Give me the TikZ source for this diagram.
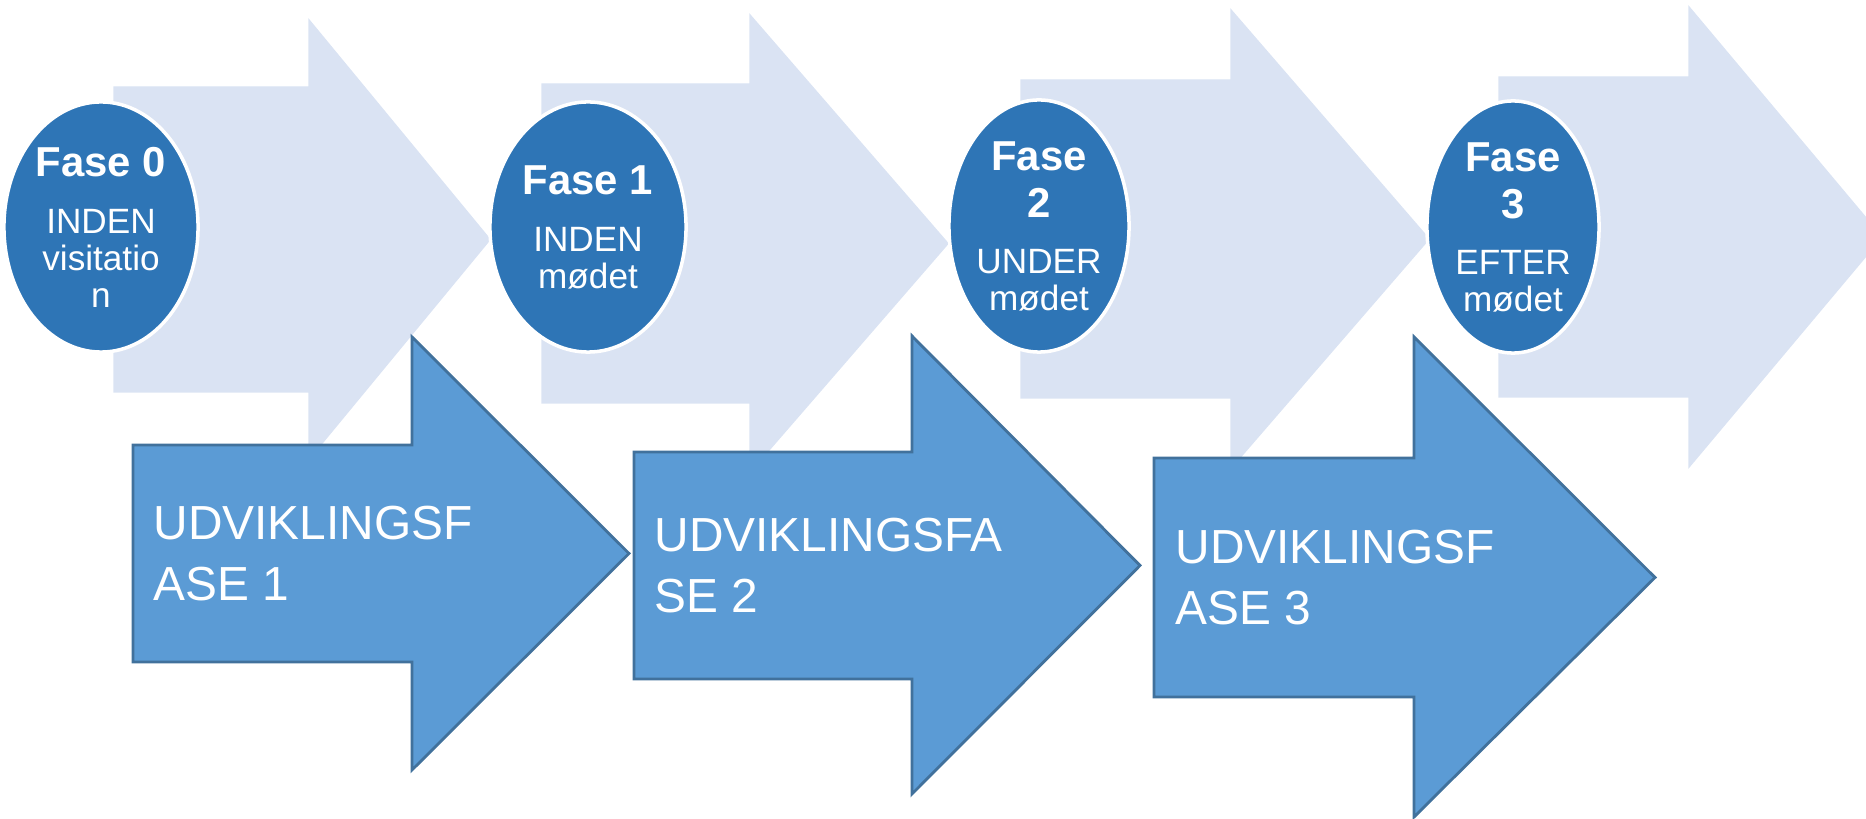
\documentclass[tikz,border=0pt]{standalone}
\usepackage{fontspec}
\setmainfont{Liberation Sans}
\usetikzlibrary{shapes}

\newcommand{\phasetitle}[1]{{\fontsize{11.9}{13.4}\selectfont\bfseries #1}}

\begin{document}
\begin{tikzpicture}[x=0.01cm, y=-0.01cm,
        lightarrow/.style={fill=phaselight, draw=phaselight, line width=0.4pt},
        darkarrow/.style={fill=devblue, draw=devborder, line width=0.8pt, line join=miter},
        phase/.style={ellipse, draw=white, fill=phaseblue, line width=1pt, text=white, inner sep=0pt, align=center, font=\fontsize{10}{10.5}\selectfont},
        devtext/.style={anchor=west, inner sep=0pt, text=white, align=left, font=\fontsize{13.6}{17.6}\selectfont}]
        \definecolor{phaselight}{RGB}{218,227,243}
        \definecolor{phaseblue}{RGB}{46,117,182}
        \definecolor{devblue}{RGB}{91,155,213}
        \definecolor{devborder}{RGB}{65,113,156}

        \clip (0,0) rectangle (1866,819);

        % Light background arrows
        \path[lightarrow] (114,87) -- (309,87) -- (309,20) -- (490,239.5) -- (309,459) -- (309,392) -- (114,392) -- cycle;
        \path[lightarrow] (542,84) -- (750,84) -- (750,15) -- (948,243.5) -- (750,472) -- (750,403) -- (542,403) -- cycle;
        \path[lightarrow] (1021,80) -- (1231,80) -- (1231,10) -- (1429,239) -- (1231,468) -- (1231,398) -- (1021,398) -- cycle;
        \path[lightarrow] (1499,77) -- (1689,77) -- (1689,7) -- (1882,237) -- (1689,467) -- (1689,397) -- (1499,397) -- cycle;

        % Phase ellipses
        \node[phase, minimum width=1.94cm, minimum height=2.5cm] (fase0) at (101,227) {\phasetitle{Fase 0}\\[5.7pt]INDEN\\visitatio\\n};
        \node[phase, minimum width=1.96cm, minimum height=2.5cm] (fase1) at (588,227) {\phasetitle{Fase 1}\\[5.7pt]INDEN\\mødet};
        \node[phase, minimum width=1.8cm, minimum height=2.52cm] (fase2) at (1039,226) {\phasetitle{Fase}\\[2.9pt]\phasetitle{2}\\[5.4pt]UNDER\\mødet};
        \node[phase, minimum width=1.72cm, minimum height=2.52cm] (fase3) at (1513,227) {\phasetitle{Fase}\\[2.9pt]\phasetitle{3}\\[5.4pt]EFTER\\mødet};

        % Development arrows
        \path[darkarrow] (133,445) -- (412,445) -- (412,337) -- (629,553.5) -- (412,770) -- (412,662) -- (133,662) -- cycle;
        \path[darkarrow] (634,452) -- (912,452) -- (912,336) -- (1140,565.5) -- (912,794) -- (912,679) -- (634,679) -- cycle;
        \path[darkarrow] (1154,458) -- (1414,458) -- (1414,337) -- (1655,577.5) -- (1414,817) -- (1414,697) -- (1154,697) -- cycle;

        \node[devtext] (udv1) at (153,553.5) {UDVIKLINGSF\\ASE 1};
        \node[devtext] (udv2) at (654,565.5) {UDVIKLINGSFA\\SE 2};
        \node[devtext] (udv3) at (1175,577.5) {UDVIKLINGSF\\ASE 3};
    \end{tikzpicture}
\end{document}
